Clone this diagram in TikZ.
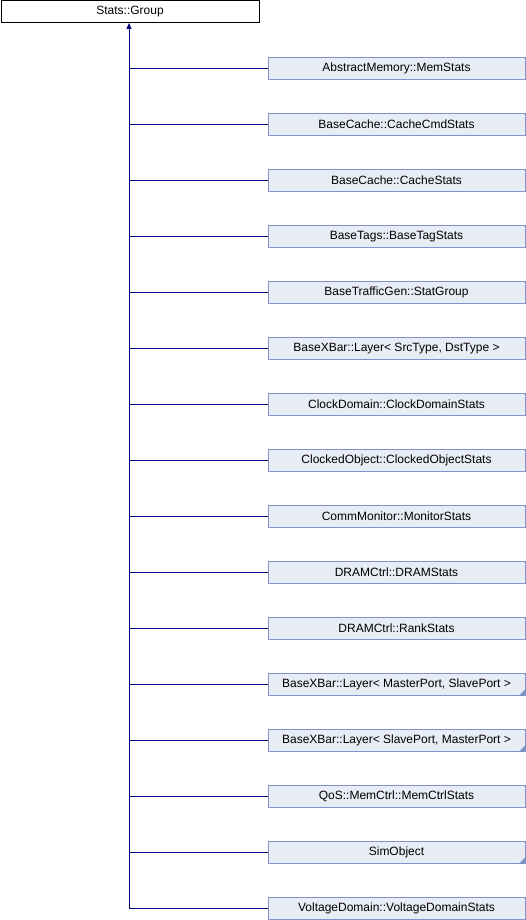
\documentclass[tikz,border=0pt]{standalone}
\usepackage{fontspec}
\setmainfont{Liberation Sans}
\usetikzlibrary{arrows.meta}
\definecolor{boxfill}{HTML}{E8ECF5}
\definecolor{boxline}{HTML}{7F93C8}
\definecolor{edgecol}{HTML}{000080}
\begin{document}
\begin{tikzpicture}[x=1pt,y=-1pt,
  base/.style={draw=black,fill=white,line width=1pt,minimum width=258pt,minimum height=22pt,inner sep=0pt,font=\fontsize{12}{14}\selectfont,anchor=north west},
  child/.style={draw=boxline,fill=boxfill,line width=1pt,minimum width=257pt,minimum height=22pt,inner sep=0pt,font=\fontsize{12}{14}\selectfont},
  edge/.style={draw=edgecol,line width=1pt}]
\useasboundingbox (0,0) rectangle (526,920);
\node[base] (root) at (0.5,0.5) {Stats::Group};
\coordinate (rb) at (129,23);
\foreach \i/\t/\tri in {0/AbstractMemory::MemStats/0,
  1/BaseCache::CacheCmdStats/0,
  2/BaseCache::CacheStats/0,
  3/BaseTags::BaseTagStats/0,
  4/BaseTrafficGen::StatGroup/0,
  5/{BaseXBar::Layer< SrcType, DstType >}/0,
  6/ClockDomain::ClockDomainStats/0,
  7/ClockedObject::ClockedObjectStats/0,
  8/CommMonitor::MonitorStats/0,
  9/DRAMCtrl::DRAMStats/0,
  10/DRAMCtrl::RankStats/0,
  11/{BaseXBar::Layer< MasterPort, SlavePort >}/1,
  12/{BaseXBar::Layer< SlavePort, MasterPort >}/1,
  13/QoS::MemCtrl::MemCtrlStats/0,
  14/SimObject/1,
  15/VoltageDomain::VoltageDomainStats/0}{
  \node[child] (c\i) at (396.5,68.5+56*\i) {\t};
  \ifnum\tri=1
    \fill[boxline] ([xshift=-0.5pt,yshift=0.5pt]c\i.north east |- c\i.south east) -- ++(-6,0) -- ++(6,-6) -- cycle;
  \fi
  \coordinate (j\i) at (129,68.5+56*\i);
  \draw[edge] (j\i) -- (c\i.west);
}
\draw[edge,-{Triangle[length=6pt,width=5pt]}] (j15) -- (rb);
\end{tikzpicture}
\end{document}
